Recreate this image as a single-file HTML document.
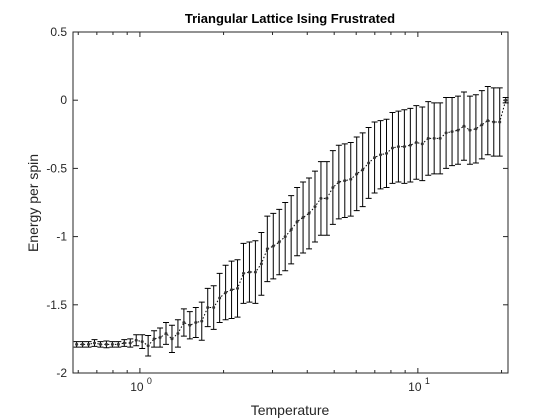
<!DOCTYPE html>
<html><head><meta charset="utf-8"><style>
body{margin:0;background:#fff;}
svg{display:block;font-family:"Liberation Sans",Arial,sans-serif;}
</style></head><body>
<svg id="chart" width="560" height="420" viewBox="0 0 560 420">
<rect x="0" y="0" width="560" height="420" fill="#fff"/>
<rect x="73" y="32" width="435" height="341" fill="#fff" stroke="#262626" stroke-width="1"/>
<text x="290" y="23" text-anchor="middle" font-size="13" font-weight="bold" fill="#000">Triangular Lattice Ising Frustrated</text>
<text x="290" y="415" text-anchor="middle" font-size="14" fill="#262626">Temperature</text>
<text transform="translate(38,203) rotate(-90)" text-anchor="middle" font-size="14" fill="#262626">Energy per spin</text>
<g id="axes"></g>
<g id="series"></g>
</svg>
<script>
const yTicks=[0.5,0,-0.5,-1,-1.5,-2];
const yTickLabels=["0.5","0","-0.5","-1","-1.5","-2"];
const xMajor=[1,10];
const xMinor=[0.6,0.7,0.8,0.9,2,3,4,5,6,7,8,9,20];
const tMin=0.592, tMax=20.7, nPts=73;
const energy=[-1.79,-1.79,-1.79,-1.78,-1.79,-1.79,-1.79,-1.79,-1.78,-1.78,-1.76,-1.77,-1.80,-1.75,-1.74,-1.71,-1.75,-1.71,-1.63,-1.65,-1.63,-1.62,-1.52,-1.52,-1.45,-1.41,-1.39,-1.38,-1.27,-1.26,
-1.26,-1.20,-1.09,-1.07,-1.04,-1.00,-0.95,-0.89,-0.86,-0.83,-0.78,-0.72,-0.72,-0.64,-0.60,-0.59,-0.58,-0.54,-0.51,-0.46,-0.42,-0.40,-0.39,-0.35,-0.34,-0.34,-0.33,-0.31,-0.32,-0.28,-0.28,-0.28,-0.24,-0.23,-0.22,-0.19,-0.22,-0.21,-0.18,-0.15,-0.16,-0.16,0.0];
const errs=[0.02,0.02,0.02,0.025,0.02,0.025,0.02,0.02,0.025,0.03,0.04,0.05,0.075,0.06,0.07,0.08,0.1,0.1,0.1,0.1,0.11,0.14,0.14,0.16,0.18,0.2,0.21,0.21,0.22,0.22,
0.23,0.23,0.24,0.24,0.24,0.25,0.25,0.25,0.26,0.26,0.26,0.27,0.27,0.27,0.27,0.27,0.27,0.27,0.27,0.26,0.26,0.25,0.25,0.26,0.26,0.27,0.27,0.27,0.27,0.27,0.26,0.26,0.26,0.25,0.25,0.25,0.25,0.25,0.25,0.25,0.25,0.25,0.02];
const temps=[];
for(let i=0;i<nPts;i++){temps.push(tMin*Math.pow(tMax/tMin,i/(nPts-1)));}

const NS="http://www.w3.org/2000/svg";
const L=73,R=508,T=32,B=373;
const lx0=Math.log10(0.5745),lx1=Math.log10(21.1);
function xs(t){return L+(Math.log10(t)-lx0)/(lx1-lx0)*(R-L);}
function ys(v){return T+(0.5-v)/2.5*(B-T);}
function mk(tag,attrs,parent){const e=document.createElementNS(NS,tag);for(const k in attrs)e.setAttribute(k,attrs[k]);parent.appendChild(e);return e;}
const ax=document.getElementById('axes');
const se=document.getElementById('series');
yTicks.forEach((v,i)=>{
  const y=ys(v);
  const t1=mk('line',{x1:L,x2:L+5,y1:y,y2:y,stroke:'#262626'},ax);
  
  
  const t2=mk('line',{x1:R-5,x2:R,y1:y,y2:y,stroke:'#262626'},ax);
  
  
  const tx=mk('text',{x:L-6,y:y+4,'text-anchor':'end','font-size':12,fill:'#262626'},ax);
  tx.textContent=yTickLabels[i];
  
  
});
xMajor.forEach(t=>{
  const x=xs(t);
  const a=mk('line',{x1:x,x2:x,y1:B,y2:B-5,stroke:'#262626'},ax);
  
  
  const b=mk('line',{x1:x,x2:x,y1:T,y2:T+5,stroke:'#262626'},ax);
  
  
  const tx=mk('text',{x:x-3,y:B+18,'text-anchor':'middle','font-size':12,fill:'#262626'},ax);
  tx.textContent='10';
  
  
  const sp=mk('text',{x:x+7,y:B+11,'font-size':9,fill:'#262626'},ax);
  sp.textContent=String(Math.round(Math.log10(t)));
  
  
});
xMinor.forEach(t=>{
  const x=xs(t);
  const a=mk('line',{x1:x,x2:x,y1:B,y2:B-3,stroke:'#262626'},ax);
  
  
  const b=mk('line',{x1:x,x2:x,y1:T,y2:T+3,stroke:'#262626'},ax);
  
  
});
let d='';
temps.forEach((t,i)=>{d+=(i?'L':'M')+xs(t).toFixed(2)+' '+ys(energy[i]).toFixed(2);});
const ln=mk('path',{d:d,fill:'none',stroke:'#000','stroke-width':1,'stroke-dasharray':'1.5 2'},se);


temps.forEach((t,i)=>{
  const x=xs(t),yt=ys(energy[i]+errs[i]),yb=ys(energy[i]-errs[i]);
  const eb=mk('path',{d:`M${x} ${yt}L${x} ${yb}M${x-3} ${yt}L${x+3} ${yt}M${x-3} ${yb}L${x+3} ${yb}`,stroke:'#000','stroke-width':1,fill:'none'},se);
  
  
  const c=mk('circle',{cx:x,cy:ys(energy[i]),r:1.5,fill:'#333'},se);
  
  
});
</script>
</body></html>
